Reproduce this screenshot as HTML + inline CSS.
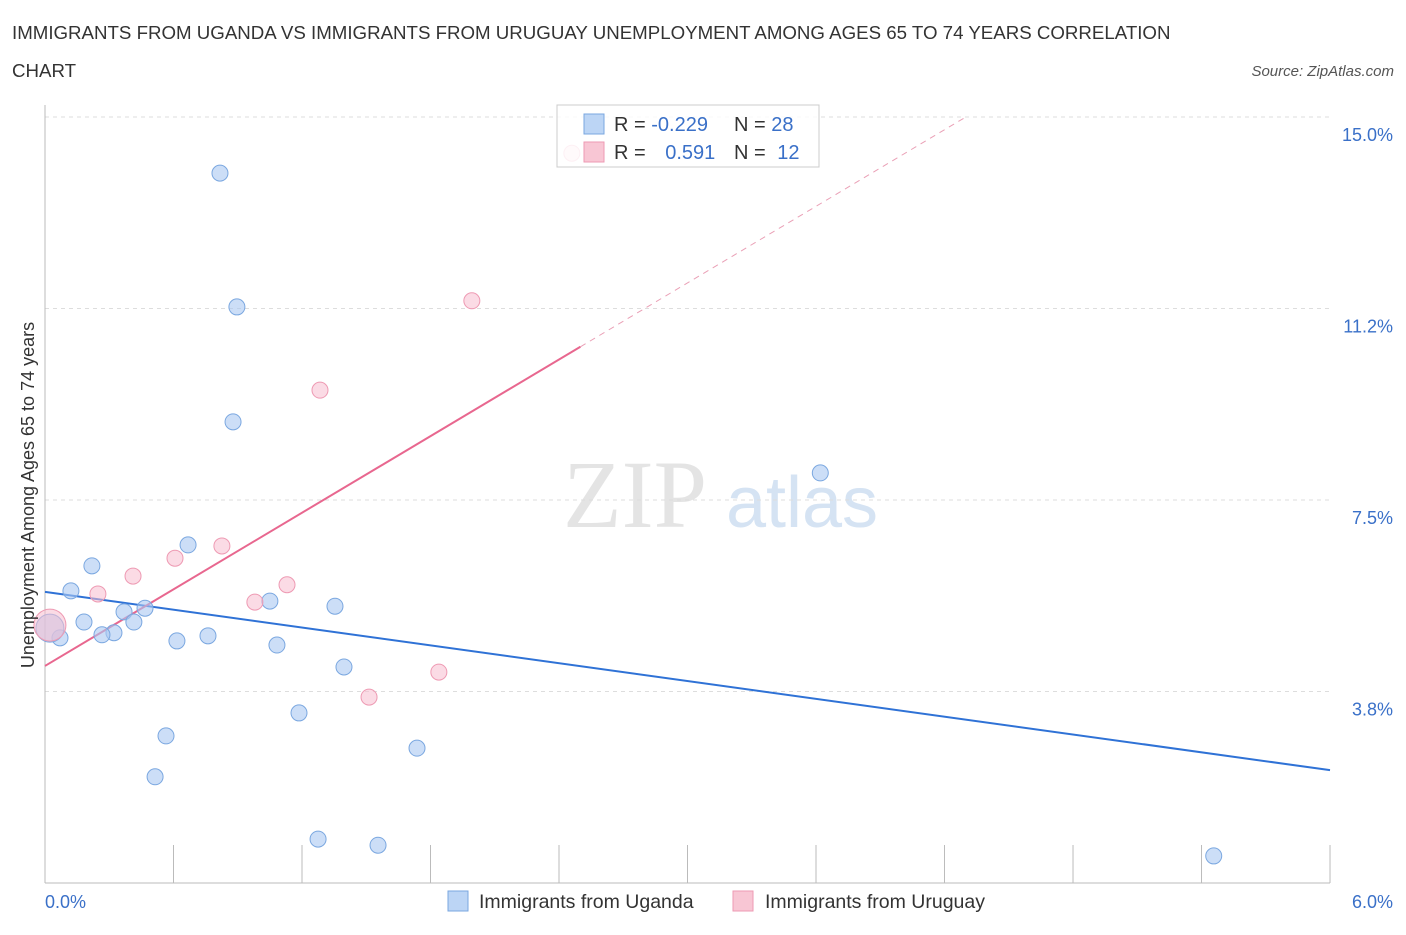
<!DOCTYPE html>
<html><head><meta charset="utf-8"><style>
body{margin:0;background:#fff;font-family:"Liberation Sans",sans-serif;}
svg text{font-family:"Liberation Sans",sans-serif;}
</style></head><body>
<svg id="chart" width="1406" height="930">
<text x="12" y="39" font-size="18.7" fill="#333">IMMIGRANTS FROM UGANDA VS IMMIGRANTS FROM URUGUAY UNEMPLOYMENT AMONG AGES 65 TO 74 YEARS CORRELATION</text>
<text x="12" y="77" font-size="18.7" fill="#333">CHART</text>
<text x="1394" y="76" font-size="15" fill="#555" font-style="italic" text-anchor="end">Source: ZipAtlas.com</text>
<text x="635" y="527" font-size="96" fill="#e4e4e4" style="font-family:'Liberation Serif',serif" text-anchor="middle">ZIP</text>
<text x="802" y="527" font-size="72" fill="#d5e3f3" text-anchor="middle">atlas</text>
<g id="grid"></g><g id="axes"></g><g id="lines"></g><g id="points"></g>
<text transform="translate(34,495) rotate(-90)" font-size="18" fill="#333" text-anchor="middle">Unemployment Among Ages 65 to 74 years</text>
<text x="45" y="908" font-size="18" fill="#3a70c8">0.0%</text>
<text x="1393" y="908" font-size="18" fill="#3a70c8" text-anchor="end">6.0%</text>
<g>
<rect x="557" y="105" width="262" height="62" fill="rgba(255,255,255,0.85)" stroke="#ccc"/>
<rect x="584" y="114" width="20" height="20" fill="#bcd5f5" stroke="#7aa7e0"/>
<rect x="584" y="142" width="20" height="20" fill="#f8c6d4" stroke="#ee9ab3"/>
<text x="614" y="131" font-size="20" fill="#333">R = <tspan fill="#3a70c8">-0.229</tspan></text>
<text x="734" y="131" font-size="20" fill="#333">N = <tspan fill="#3a70c8">28</tspan></text>
<text x="614" y="159" font-size="20" fill="#333">R = <tspan fill="#3a70c8" dx="14">0.591</tspan></text>
<text x="734" y="159" font-size="20" fill="#333">N = <tspan fill="#3a70c8" dx="6">12</tspan></text>
</g>
<g><rect x="448" y="891" width="20" height="20" fill="#bcd5f5" stroke="#7aa7e0"/><text x="479" y="908" font-size="19.5" fill="#333">Immigrants from Uganda</text></g>
<g><rect x="733" y="891" width="20" height="20" fill="#f8c6d4" stroke="#ee9ab3"/><text x="765" y="908" font-size="19.5" fill="#333">Immigrants from Uruguay</text></g>
</svg>
<script>
const yTicks=[3.75,7.5,11.25,15];
const yTickLabels=["3.8%","7.5%","11.2%","15.0%"];
const ugandaX=[0.817,0.896,0.878,3.62,0.668,0.219,0.121,0.467,0.369,1.05,1.354,0.182,0.415,0.322,0.266,0.07,0.023,0.616,0.761,1.083,1.396,1.186,0.565,0.514,1.737,1.275,1.555,5.457];
const ugandaY=[13.9,11.28,9.03,8.03,6.62,6.21,5.72,5.38,5.31,5.52,5.42,5.11,5.11,4.9,4.86,4.8,4.99,4.74,4.84,4.66,4.23,3.33,2.88,2.08,2.64,0.86,0.74,0.53];
const uruguayX=[2.46,1.993,1.284,0.826,0.607,0.411,0.247,1.13,0.98,1.839,1.513,0.023];
const uruguayY=[14.29,11.4,9.65,6.6,6.36,6.01,5.66,5.84,5.5,4.13,3.64,5.05];
const ugandaTrend=[5.70,2.21];
const uruguayTrend=[4.25,2.5];
const NS="http://www.w3.org/2000/svg";
const X=v=>45+v*214.17, Y=v=>883-v*51.07;
function mk(p,t,a){const e=document.createElementNS(NS,t);for(const k in a)e.setAttribute(k,a[k]);document.getElementById(p).appendChild(e);return e;}
yTicks.forEach((t,i)=>{
 const g=mk('grid','line',{x1:45,x2:1330,y1:Y(t),y2:Y(t),stroke:'#ddd','stroke-dasharray':'4,4'});
 
 
 const l=mk('grid','text',{x:1393,y:Y(t)+24,'font-size':18,fill:'#3a70c8','text-anchor':'end'});l.textContent=yTickLabels[i];
 
 
});
mk('axes','line',{x1:45,x2:45,y1:105,y2:883,stroke:'#bbb'});
const xa=mk('axes','line',{x1:45,x2:1330,y1:883,y2:883,stroke:'#bbb'});


for(let i=0;i<=10;i++){const t=mk('axes','line',{x1:X(i*0.6),x2:X(i*0.6),y1:845,y2:883,stroke:'#bbb'});
 
 }
const bl=mk('lines','line',{x1:X(0),y1:Y(ugandaTrend[0]),x2:X(6),y2:Y(ugandaTrend[0]+(ugandaTrend[1]-ugandaTrend[0])),stroke:'#2f72d6','stroke-width':2});


const xs=2.5, xe=(15-uruguayTrend[0])/uruguayTrend[1];
const pl=mk('lines','line',{x1:X(0),y1:Y(uruguayTrend[0]),x2:X(xs),y2:Y(uruguayTrend[0]+uruguayTrend[1]*xs),stroke:'#e8678f','stroke-width':2});


const pd=mk('lines','line',{x1:X(xs),y1:Y(uruguayTrend[0]+uruguayTrend[1]*xs),x2:X(xe),y2:Y(15),stroke:'#eaa0b6','stroke-width':1,'stroke-dasharray':'6,5'});


ugandaX.forEach((x,i)=>{const r=i==16?14:8;const c=mk('points','circle',{cx:X(x),cy:Y(ugandaY[i]),r:r,fill:'rgba(170,200,242,0.6)',stroke:'#7aa7e0'});
 
 });
uruguayX.forEach((x,i)=>{const r=i==11?16:8;const c=mk('points','circle',{cx:X(x),cy:Y(uruguayY[i]),r:r,fill:'rgba(248,190,208,0.55)',stroke:'#ee9ab3'});
 
 });
</script>
</body></html>
